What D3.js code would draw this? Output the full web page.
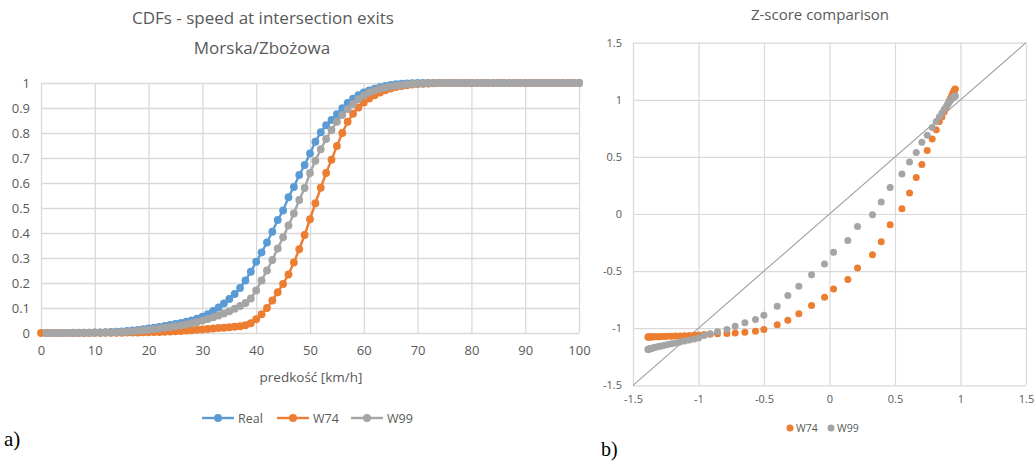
<!DOCTYPE html>
<html lang="en">
<head>
<meta charset="UTF-8">
<title>CDFs and Z-score comparison</title>
<script src="https://d3js.org/d3.v7.min.js"></script>
<style>
  body { margin: 0; background: #fff; }
  svg text { font-family: "Open Sans", "Noto Sans", sans-serif; fill: #595959; }
  .panel { font-family: "Liberation Serif", "Times New Roman", serif; fill: #000; }
</style>
</head>
<body>
<svg id="fig" width="1035" height="461"></svg>
<script>
// ---- CDF chart (a) ----
const speeds = d3.range(0, 101);

const realCdf = [null, 0.000, 0.000, 0.000, 0.000, 0.000, 0.001, 0.001, 0.001, 0.001, 0.002,
  0.002, 0.003, 0.004, 0.005, 0.006, 0.008, 0.010, 0.012, 0.015, 0.018,
  0.021, 0.024, 0.028, 0.032, 0.036, 0.040, 0.045, 0.050, 0.057, 0.065,
  0.075, 0.088, 0.102, 0.118, 0.136, 0.156, 0.180, 0.210, 0.245, 0.285,
  0.322, 0.362, 0.405, 0.452, 0.490, 0.543, 0.584, 0.632, 0.672, 0.718,
  0.765, 0.803, 0.831, 0.852, 0.875, 0.899, 0.920, 0.937, 0.951, 0.962,
  0.970, 0.977, 0.983, 0.988, 0.992, 0.995, 0.997, 0.998, 0.999, 1.000,
  1, 1, 1, 1, 1, 1, 1, 1, 1, 1,
  1, 1, 1, 1, 1, 1, 1, 1, 1, 1,
  1, 1, 1, 1, 1, 1, 1, 1, 1, 1];

const w74Cdf = [0.000, 0.000, 0.000, 0.000, 0.000, 0.000, 0.000, 0.000, 0.000, 0.000, 0.001,
  0.001, 0.001, 0.001, 0.001, 0.001, 0.002, 0.002, 0.002, 0.003, 0.003,
  0.004, 0.004, 0.005, 0.006, 0.007, 0.008, 0.010, 0.011, 0.013, 0.014,
  0.016, 0.018, 0.020, 0.021, 0.023, 0.025, 0.027, 0.031, 0.039, 0.055,
  0.075, 0.100, 0.130, 0.163, 0.196, 0.234, 0.282, 0.335, 0.392, 0.455,
  0.519, 0.581, 0.640, 0.693, 0.748, 0.800, 0.845, 0.877, 0.902, 0.922,
  0.938, 0.951, 0.962, 0.971, 0.978, 0.984, 0.988, 0.991, 0.994, 0.996,
  0.997, 0.998, 0.999, 1, 1, 1, 1, 1, 1, 1,
  1, 1, 1, 1, 1, 1, 1, 1, 1, 1,
  1, 1, 1, 1, 1, 1, 1, 1, 1, 1];

const w99Cdf = [null, 0.000, 0.000, 0.000, 0.000, 0.000, 0.000, 0.000, 0.001, 0.001, 0.001,
  0.001, 0.002, 0.002, 0.003, 0.004, 0.005, 0.007, 0.009, 0.011, 0.013,
  0.015, 0.018, 0.021, 0.024, 0.027, 0.030, 0.034, 0.039, 0.044, 0.050,
  0.056, 0.063, 0.070, 0.078, 0.087, 0.097, 0.108, 0.120, 0.138, 0.170,
  0.210, 0.250, 0.292, 0.338, 0.383, 0.430, 0.478, 0.532, 0.580, 0.640,
  0.689, 0.735, 0.776, 0.812, 0.845, 0.872, 0.896, 0.916, 0.935, 0.950,
  0.962, 0.970, 0.977, 0.982, 0.986, 0.989, 0.992, 0.994, 0.996, 0.997,
  0.998, 0.999, 1, 1, 1, 1, 1, 1, 1, 1,
  1, 1, 1, 1, 1, 1, 1, 1, 1, 1,
  1, 1, 1, 1, 1, 1, 1, 1, 1, 1];

const cdfNames = ["Real", "W74", "W99"];
const cdfXTicks = [0, 10, 20, 30, 40, 50, 60, 70, 80, 90, 100];
const cdfYTicks = [0, 0.1, 0.2, 0.3, 0.4, 0.5, 0.6, 0.7, 0.8, 0.9, 1];

// ---- Z-score chart (b) ----
const zReal = [-1.386, -1.384, -1.381, -1.377, -1.372, -1.366, -1.358, -1.348, -1.336, -1.321,
  -1.303, -1.283, -1.260, -1.234, -1.205, -1.174, -1.141, -1.106, -1.070, -1.034,
  -1.000, -0.957, -0.911, -0.855, -0.783, -0.720, -0.646, -0.565, -0.501, -0.399,
  -0.318, -0.234, -0.137, -0.038, 0.031, 0.140, 0.214, 0.328, 0.395, 0.463,
  0.553, 0.611, 0.662, 0.705, 0.746, 0.784, 0.815, 0.838, 0.858, 0.875,
  0.890, 0.903, 0.914, 0.923, 0.931, 0.938, 0.944, 0.949, 0.953, 0.956,
  0.958, 0.960];

const zW74 = [-1.078, -1.078, -1.077, -1.077, -1.077, -1.076, -1.076, -1.075, -1.075, -1.074,
  -1.074, -1.073, -1.072, -1.071, -1.070, -1.069, -1.068, -1.066, -1.064, -1.062,
  -1.060, -1.055, -1.052, -1.049, -1.047, -1.042, -1.035, -1.026, -1.011, -0.970,
  -0.930, -0.874, -0.802, -0.729, -0.656, -0.574, -0.472, -0.356, -0.242, -0.094,
  0.046, 0.184, 0.320, 0.434, 0.556, 0.656, 0.737, 0.810, 0.850, 0.893,
  0.930, 0.962, 0.990, 1.012, 1.032, 1.048, 1.062, 1.073, 1.082, 1.088,
  1.092, 1.095];

const zW99 = [-1.186, -1.185, -1.184, -1.183, -1.181, -1.179, -1.176, -1.173, -1.169, -1.165,
  -1.160, -1.155, -1.149, -1.143, -1.136, -1.129, -1.121, -1.113, -1.104, -1.095,
  -1.086, -1.064, -1.049, -1.031, -1.011, -0.982, -0.953, -0.924, -0.886, -0.808,
  -0.714, -0.633, -0.533, -0.437, -0.336, -0.231, -0.110, -0.006, 0.105, 0.233,
  0.350, 0.455, 0.539, 0.629, 0.690, 0.757, 0.810, 0.850, 0.885, 0.915,
  0.940, 0.962, 0.980, 0.995, 1.007, 1.016, 1.022, 1.026, 1.029, 1.031,
  1.032, 1.033];

const zNames = ["W74", "W99"];
const zTicks = [-1.5, -1, -0.5, 0, 0.5, 1, 1.5];

const colors = { Real: "#5B9BD5", W74: "#ED7D31", W99: "#A5A5A5" };
const gridColor = "#d9d9d9";

const svg = d3.select("#fig");

// ================= chart a =================
const xc = d3.scaleLinear().domain([0, 100]).range([41, 579]);
const yc = d3.scaleLinear().domain([0, 1]).range([333, 83]);

const gxa = svg.append("g")
  .attr("transform", "translate(0,333)")
  .call(d3.axisBottom(xc).tickValues(cdfXTicks).tickSize(-250).tickPadding(13).tickFormat(d => String(d)));
gxa.select(".domain").remove();
gxa.selectAll("line").attr("stroke", gridColor).attr("stroke-width", 1.3);
gxa.selectAll("text").style("font-size", "13px");

const gya = svg.append("g")
  .attr("transform", "translate(41,0)")
  .call(d3.axisLeft(yc).tickValues(cdfYTicks).tickSize(-538).tickPadding(11).tickFormat(d => String(+d.toFixed(1))));
gya.select(".domain").remove();
gya.selectAll("line").attr("stroke", gridColor).attr("stroke-width", 1.3);
gya.selectAll("text").style("font-size", "13px");

const cdfData = {
  Real: speeds.map((s, i) => [s, realCdf[i]]),
  W74: speeds.map((s, i) => [s, w74Cdf[i]]),
  W99: speeds.map((s, i) => [s, w99Cdf[i]])
};

const cdfLine = d3.line()
  .defined(d => d[1] != null)
  .x(d => xc(d[0]))
  .y(d => yc(d[1]));

cdfNames.forEach(name => {
  const g = svg.append("g");
  g.append("path")
    .datum(cdfData[name])
    .attr("d", cdfLine)
    .attr("fill", "none")
    .attr("stroke", colors[name])
    .attr("stroke-width", 2.4);
  g.selectAll("circle")
    .data(cdfData[name].filter(d => d[1] != null))
    .enter().append("circle")
    .attr("cx", d => xc(d[0]))
    .attr("cy", d => yc(d[1]))
    .attr("r", 3.9)
    .attr("fill", colors[name]);
});

// titles
svg.append("text").attr("x", 263).attr("y", 24).attr("text-anchor", "middle")
  .style("font-size", "17px").text("CDFs - speed at intersection exits");
svg.append("text").attr("x", 262).attr("y", 54).attr("text-anchor", "middle")
  .style("font-size", "17px").text("Morska/Zbożowa");
svg.append("text").attr("x", 311).attr("y", 382).attr("text-anchor", "middle")
  .style("font-size", "13.5px").text("predkość [km/h]");

// legend a
const legA = [{ name: "Real", x: 202 }, { name: "W74", x: 277 }, { name: "W99", x: 351 }];
legA.forEach(l => {
  const g = svg.append("g").attr("transform", `translate(${l.x},418)`);
  g.append("line").attr("x1", 0).attr("x2", 32).attr("y1", 0).attr("y2", 0)
    .attr("stroke", colors[l.name]).attr("stroke-width", 2.4);
  g.append("circle").attr("cx", 16).attr("cy", 0).attr("r", 4).attr("fill", colors[l.name]);
  g.append("text").attr("x", 36).attr("y", 4.5).style("font-size", "12.5px").text(l.name);
});

svg.append("text").attr("class", "panel").attr("x", 4).attr("y", 446)
  .style("font-size", "21px").style("fill", "#000").text("a)");

// ================= chart b =================
const xz = d3.scaleLinear().domain([-1.5, 1.5]).range([633, 1026]);
const yz = d3.scaleLinear().domain([-1.5, 1.5]).range([385.3, 42.7]);

const gxb = svg.append("g")
  .attr("transform", "translate(0,385.3)")
  .call(d3.axisBottom(xz).tickValues(zTicks).tickSize(-342.6).tickPadding(10).tickFormat(d => String(d)));
gxb.select(".domain").remove();
gxb.selectAll("line").attr("stroke", gridColor).attr("stroke-width", 1.2);
gxb.selectAll("text").style("font-size", "11px");

const gyb = svg.append("g")
  .attr("transform", "translate(633,0)")
  .call(d3.axisLeft(yz).tickValues(zTicks).tickSize(-393).tickPadding(11).tickFormat(d => String(d)));
gyb.select(".domain").remove();
gyb.selectAll("line").attr("stroke", gridColor).attr("stroke-width", 1.2);
gyb.selectAll("text").style("font-size", "11px");

// reference line y = x
svg.append("line")
  .attr("x1", xz(-1.5)).attr("y1", yz(-1.5))
  .attr("x2", xz(1.5)).attr("y2", yz(1.5))
  .attr("stroke", "#a0a0a0").attr("stroke-width", 1.1);

const zData = {
  W74: zReal.map((x, i) => [x, zW74[i]]),
  W99: zReal.map((x, i) => [x, zW99[i]])
};

zNames.forEach(name => {
  svg.append("g").selectAll("circle")
    .data(zData[name])
    .enter().append("circle")
    .attr("cx", d => xz(d[0]))
    .attr("cy", d => yz(d[1]))
    .attr("r", 3.5)
    .attr("fill", colors[name]);
});

svg.append("text").attr("x", 820).attr("y", 20).attr("text-anchor", "middle")
  .style("font-size", "15px").text("Z-score comparison");

// legend b
const legB = [{ name: "W74", x: 790 }, { name: "W99", x: 831 }];
legB.forEach(l => {
  const g = svg.append("g").attr("transform", `translate(${l.x},428)`);
  g.append("circle").attr("cx", 0).attr("cy", 0).attr("r", 3.5).attr("fill", colors[l.name]);
  g.append("text").attr("x", 6).attr("y", 4).style("font-size", "10.5px").text(l.name);
});

svg.append("text").attr("class", "panel").attr("x", 601).attr("y", 456)
  .style("font-size", "20px").style("fill", "#000").text("b)");
</script>
</body>
</html>
